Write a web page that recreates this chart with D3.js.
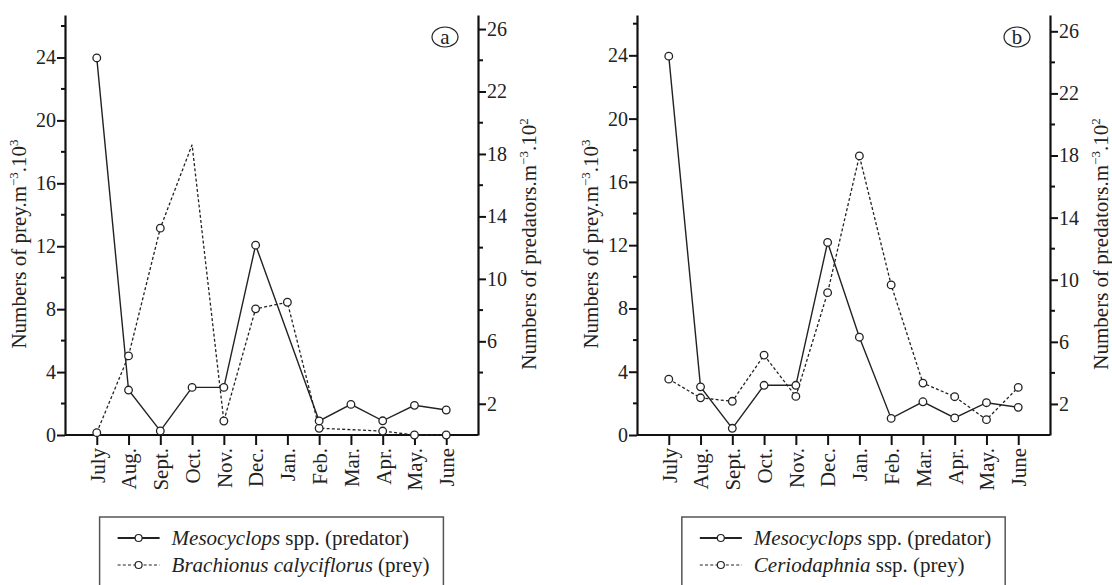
<!DOCTYPE html>
<html><head><meta charset="utf-8">
<script src="https://cdn.jsdelivr.net/npm/d3@7"></script>
<style>
body{margin:0;background:#fff;}
svg{display:block;}
svg text{font-family:"Liberation Serif","Times New Roman",serif;}
</style></head>
<body><svg id="c" width="1112" height="585"></svg>
<script>
const months = ["July","Aug.","Sept.","Oct.","Nov.","Dec.","Jan.","Feb.","Mar.","Apr.","May.","June"];
const leftTicks = [0,4,8,12,16,20,24];
const leftMinor = [2,6,10,14,18,22,26];
const rightTicks = [2,6,10,14,18,22,26];
const rightMinor = [4,8,12,16,20,24];

// Panel a
const predatorA = [24.15,2.88,0.26,3.05,3.05,12.16,null,0.9,1.96,0.91,1.9,1.6];
const preyA = [0.15,5.03,13.15,18.45,0.89,8.02,8.44,0.43,null,0.25,0,0];
const preyAUnmarked = ["Oct."];
// Panel b
const predatorB = [24.4,3.1,0.43,3.2,3.2,12.4,6.3,1.07,2.14,1.1,2.08,1.78];
const preyB = [3.53,2.35,2.13,5.05,2.44,9.0,17.64,9.49,3.28,2.42,0.97,3.01];
const preyBUnmarked = [];

const predatorName = "Mesocyclops";
const panels = [
  {id:"a", dx:0, predator:predatorA, prey:preyA, unmarked:preyAUnmarked, preyItalic:"Brachionus calyciflorus", preyRest:" (prey)", predRest:" spp. (predator)", leftMax:26.7, rightMax:26.9},
  {id:"b", dx:572, predator:predatorB, prey:preyB, unmarked:preyBUnmarked, preyItalic:"Ceriodaphnia", preyRest:" ssp. (prey)", predRest:" spp. (predator)", leftMax:26.55, rightMax:27.05}
];

const svg = d3.select("#c");
const X0=65, X1=478, TOP=15, BOT=435;
const FS=21, TFS=20;
const FF="Liberation Serif";

panels.forEach(p=>{
  const g = svg.append("g").attr("transform",`translate(${p.dx},0)`);
  const x = d3.scalePoint().domain(months).range([X0,X1]).padding(1);
  const yL = d3.scaleLinear().domain([0,p.leftMax]).range([BOT,TOP]);
  const yR = d3.scaleLinear().domain([0,p.rightMax]).range([BOT,TOP]);

  const aL = g.append("g").attr("transform",`translate(${X0},0)`)
    .call(d3.axisLeft(yL).tickValues(leftTicks).tickSize(8).tickSizeOuter(0).tickPadding(1).tickFormat(d3.format("d")));
  aL.append("g").selectAll("line").data(leftMinor).join("line")
    .attr("x1",0).attr("x2",-4).attr("y1",d=>yL(d)).attr("y2",d=>yL(d));
  const aR = g.append("g").attr("transform",`translate(${X1},0)`)
    .call(d3.axisRight(yR).tickValues(rightTicks).tickSize(8).tickSizeOuter(0).tickPadding(1).tickFormat(d3.format("d")));
  aR.append("g").selectAll("line").data(rightMinor).join("line")
    .attr("x1",0).attr("x2",5).attr("y1",d=>yR(d)).attr("y2",d=>yR(d));
  const aB = g.append("g").attr("transform",`translate(0,${BOT})`)
    .call(d3.axisBottom(x).tickSize(10).tickSizeOuter(0).tickPadding(3));
  aB.selectAll(".tick text").attr("transform","rotate(-90)").attr("text-anchor","end")
    .attr("dy","0.35em").attr("x",-13).attr("y",0);
  aB.select(".domain").attr("d",`M${X0},0H${X1}`);

  [aL,aR,aB].forEach(a=>{
    a.attr("font-family",FF);
    a.selectAll("text").attr("font-size",TFS).attr("font-family",FF).attr("fill","#222");
    a.selectAll("line").attr("stroke","#111").attr("stroke-width",2);
    a.select(".domain").attr("stroke","#111").attr("stroke-width",2.2);
  });
  aB.selectAll("text").attr("font-size",FS);

  const tL = g.append("text").attr("transform",`translate(${X0-39},244) rotate(-90)`)
    .attr("text-anchor","middle").attr("font-size",FS).attr("font-family",FF).attr("fill","#222");
  tL.append("tspan").text("Numbers of prey.m");
  tL.append("tspan").attr("font-size",13).attr("dy",-8).text("\u22123");
  tL.append("tspan").attr("dy",8).text(".10");
  tL.append("tspan").attr("font-size",13).attr("dy",-8).text("3");

  const tR = g.append("text").attr("transform",`translate(${X1+58},244) rotate(-90)`)
    .attr("text-anchor","middle").attr("font-size",FS).attr("font-family",FF).attr("fill","#222");
  tR.append("tspan").text("Numbers of predators.m");
  tR.append("tspan").attr("font-size",13).attr("dy",-8).text("\u22123");
  tR.append("tspan").attr("dy",8).text(".10");
  tR.append("tspan").attr("font-size",13).attr("dy",-8).text("2");

  g.append("ellipse").attr("cx",445).attr("cy",37).attr("rx",13).attr("ry",10)
    .attr("fill","none").attr("stroke","#222").attr("stroke-width",1.2);
  g.append("text").attr("x",445).attr("y",37).attr("dy","0.33em").attr("text-anchor","middle")
    .attr("font-size",FS).attr("font-family",FF).attr("fill","#222").text(p.id);

  const pred = months.map((m,i)=>({m,v:p.predator[i]})).filter(d=>d.v!==null);
  const prey = months.map((m,i)=>({m,v:p.prey[i]})).filter(d=>d.v!==null);
  const lineR = d3.line().x(d=>x(d.m)).y(d=>yR(d.v));
  const lineL = d3.line().x(d=>x(d.m)).y(d=>yL(d.v));

  g.append("path").datum(prey).attr("d",lineL).attr("fill","none")
    .attr("stroke","#222").attr("stroke-width",1.3).attr("stroke-dasharray","3,2.2");
  g.append("path").datum(pred).attr("d",lineR).attr("fill","none")
    .attr("stroke","#222").attr("stroke-width",1.4);

  g.append("g").selectAll("circle").data(prey.filter(d=>!p.unmarked.includes(d.m))).join("circle")
    .attr("cx",d=>x(d.m)).attr("cy",d=>yL(d.v)).attr("r",3.8)
    .attr("fill","#fff").attr("stroke","#222").attr("stroke-width",1.3);
  g.append("g").selectAll("circle").data(pred).join("circle")
    .attr("cx",d=>x(d.m)).attr("cy",d=>yR(d.v)).attr("r",3.8)
    .attr("fill","#fff").attr("stroke","#222").attr("stroke-width",1.3);

  const lg = g.append("g");
  const box = lg.append("rect").attr("fill","none").attr("stroke","#555").attr("stroke-width",1.5);
  const rows = [
    {dash:null, it:predatorName, rest:p.predRest},
    {dash:"3,2.2", it:p.preyItalic, rest:p.preyRest}
  ];
  const items = lg.selectAll("g.item").data(rows).join("g").attr("class","item");
  items.append("line").attr("x1",0).attr("x2",42).attr("y1",0).attr("y2",0)
    .attr("stroke","#222").attr("stroke-width",d=>d.dash?1.2:2).attr("stroke-dasharray",d=>d.dash);
  items.append("circle").attr("cx",21).attr("cy",0).attr("r",3.5).attr("fill","#fff")
    .attr("stroke","#222").attr("stroke-width",1.2);
  const tx = items.append("text").attr("x",54).attr("y",0).attr("dy","0.33em")
    .attr("font-size",FS).attr("font-family",FF).attr("fill","#222");
  tx.append("tspan").attr("font-style","italic").text(d=>d.it);
  tx.append("tspan").text(d=>d.rest);
  let maxW = 0;
  tx.each(function(){maxW=Math.max(maxW,this.getComputedTextLength());});
  const padL = 18, padR = 14;
  const boxW = 54 + maxW + padL + padR;
  const cx = (X0+X1)/2;
  const bx = cx - boxW/2;
  box.attr("x",bx).attr("y",517).attr("width",boxW).attr("height",100);
  items.attr("transform",(d,i)=>`translate(${bx+padL},${538+i*27})`);
});
</script></body></html>
